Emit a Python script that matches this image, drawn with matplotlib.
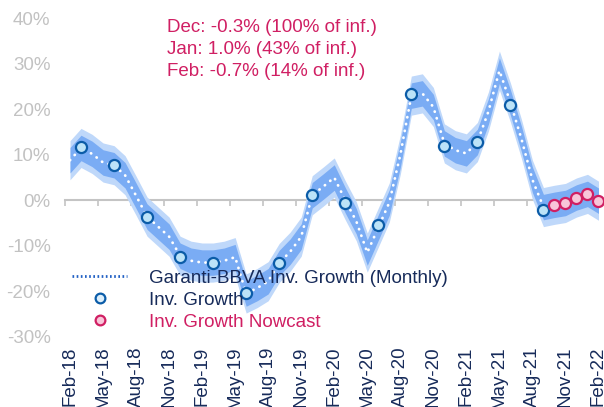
"""Garanti-BBVA investment growth nowcast: monthly line, bands, quarterly points."""

import matplotlib

matplotlib.use("Agg")
import matplotlib.pyplot as plt
import numpy as np
import pandas as pd
from matplotlib.lines import Line2D
from matplotlib.ticker import FuncFormatter

plt.rcParams["font.family"] = ["Liberation Sans", "DejaVu Sans"]

# --- data --------------------------------------------------------------------
months = pd.date_range("2018-02-01", periods=49, freq="MS")  # Feb-18 .. Feb-22

# monthly estimate, Feb-18 .. Sep-21 (%)
monthly_growth = [
    8.8, 11.5, 10.2, 8.3, 7.7, 5.5, 1.0, -3.6, -5.8, -8.0, -12.2, -13.3,
    -13.7, -13.7, -13.3, -12.5, -20.5, -19.3, -17.8, -13.8, -11.3, -8.0, 1.1, 3.0,
    5.0, 0.0, -4.6, -11.5, -6.0, -0.5, 10.0, 23.0, 23.5, 20.5, 12.5, 11.0,
    10.3, 12.8, 19.5, 28.5, 21.5, 13.5, 4.5, -1.5,
]

# quarterly official growth, Mar-18 .. Sep-21 (%)
quarterly_idx = list(range(1, 44, 3))
quarterly_growth = [11.7, 7.7, -3.6, -12.4, -13.7, -20.4, -13.8, 1.1, -0.5, -5.4,
                    23.3, 11.9, 12.8, 21.0, -2.2]

# nowcast, Oct-21 .. Feb-22 (%)
nowcast_idx = list(range(44, 49))
nowcast_growth = [-1.0, -0.6, 0.6, 1.4, -0.1]

inner_half_width = 2.8
outer_half_width = 4.3

notes = [
    "Dec: -0.3% (100% of inf.)",
    "Jan: 1.0% (43% of inf.)",
    "Feb: -0.7% (14% of inf.)",
]

# --- style -------------------------------------------------------------------
NAVY = "#172B5A"
PINK = "#D01F63"
GREY = "#C4C4C4"
FS = 13.5

x_all = np.arange(len(months))
x_line = np.arange(len(monthly_growth))
band_center = np.array(monthly_growth + nowcast_growth)

fig = plt.figure(figsize=(6.04, 4.07), dpi=100)
ax = fig.add_axes([0.1068, 0.1727, 0.8932, 0.7823])

ax.fill_between(x_all, band_center - outer_half_width, band_center + outer_half_width,
                color="#BFD8FA", linewidth=0, zorder=1)
ax.fill_between(x_all, band_center - inner_half_width, band_center + inner_half_width,
                color="#7AACF4", linewidth=0, zorder=2)
ax.plot(x_line, monthly_growth, color="white", linewidth=2.0,
        linestyle=(0, (0.1, 2.4)), dash_capstyle="round", zorder=3)
ax.plot(quarterly_idx, quarterly_growth, linestyle="", marker="o", markersize=8,
        markerfacecolor="#BCE3F8", markeredgecolor="#0B5CA8", markeredgewidth=1.6,
        zorder=4)
ax.plot(nowcast_idx, nowcast_growth, linestyle="", marker="o", markersize=8,
        markerfacecolor="#F8C6D9", markeredgecolor=PINK, markeredgewidth=1.6,
        zorder=4)

ax.set_xlim(-0.5, len(months) - 0.5)
ax.set_ylim(-30, 40)
for side in ("top", "right", "left", "bottom"):
    ax.spines[side].set_visible(False)

ax.set_yticks(np.arange(-30, 41, 10))
ax.yaxis.set_major_formatter(FuncFormatter(lambda v, _: f"{v:.0f}%"))
ax.tick_params(axis="y", length=0, pad=10, labelsize=FS, labelcolor="#C2C2C2")

tick_pos = x_all[::3]
ax.set_xticks(tick_pos, [d.strftime("%b-%y") for d in months[::3]], rotation=90)
ax.tick_params(axis="x", length=0, pad=7, labelsize=FS, labelcolor=NAVY)

# zero line with category-boundary tick marks
zero_axis = ax.secondary_xaxis(30 / 70)
zero_axis.spines["bottom"].set_color(GREY)
zero_axis.spines["bottom"].set_linewidth(1.5)
zero_axis.set_xticks(tick_pos - 0.5)
zero_axis.tick_params(axis="x", direction="out", length=4, width=1.2, color=GREY,
                      labelbottom=False)

for i, note in enumerate(notes):
    ax.text(0.19, 0.972 - i * 0.069, note, transform=ax.transAxes, color=PINK,
            fontsize=FS, va="center", ha="left")

handles = [
    Line2D([], [], color="#2160C4", linewidth=2.0, linestyle=(0, (0.6, 0.9))),
    Line2D([], [], linestyle="", marker="o", markersize=7, markerfacecolor="#DDEFFB",
           markeredgecolor="#0B5CA8", markeredgewidth=1.6),
    Line2D([], [], linestyle="", marker="o", markersize=7, markerfacecolor="#F8C6D9",
           markeredgecolor=PINK, markeredgewidth=1.6),
]
labels = ["Garanti-BBVA Inv. Growth (Monthly)", "Inv. Growth", "Inv. Growth Nowcast"]
leg = ax.legend(handles, labels, loc="center left", bbox_to_anchor=(0.0139, 0.114),
                frameon=False, fontsize=FS, borderpad=0, handlelength=2.95,
                handletextpad=1.15, labelspacing=0.26, borderaxespad=0)
for text, color in zip(leg.get_texts(), [NAVY, NAVY, PINK]):
    text.set_color(color)

fig.savefig("out.png", dpi=100)
